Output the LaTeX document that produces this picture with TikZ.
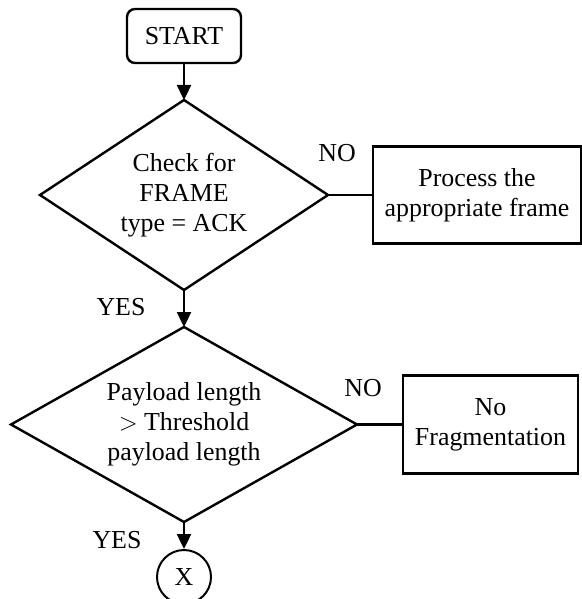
\documentclass[tikz,border=0pt]{standalone}
\usepackage{fontspec}
\setmainfont{Liberation Serif}
\usetikzlibrary{shapes.geometric,arrows.meta}
\begin{document}
\begin{tikzpicture}[x=1bp,y=-1bp,
  every node/.style={font=\fontsize{26}{30}\selectfont},
  link/.style={line width=2.4bp},
  flow/.style={link, -{Triangle[length=15bp,width=14bp]}},
  decision/.style={draw, line width=2.4bp, diamond, align=center, inner sep=0pt, outer sep=0pt},
  procbox/.style={draw, line width=2.4bp, rectangle, align=center, inner sep=0pt},
  tag/.style={inner sep=0pt}]
\useasboundingbox (0,0) rectangle (582,599);
\clip (0,0) rectangle (582,599);

% flow chart nodes
\node[procbox, rounded corners=8bp, minimum width=114bp, minimum height=54bp] (start) at (184,36) {START};
\node[decision, shape aspect=1.516, minimum width=288bp, minimum height=190bp] (d1) at (184,195) {Check for\\FRAME\\type = ACK};
\node[procbox, minimum width=208bp, minimum height=97bp] (proc) at (477,195) {Process the\\appropriate frame};
\node[decision, shape aspect=1.774, minimum width=346bp, minimum height=195bp] (d2) at (184,424.5) {Payload length\\$>$ Threshold\\payload length};
\node[procbox, minimum width=175bp, minimum height=98bp] (nofrag) at (490.5,424.5) {No\\Fragmentation};
\node[draw, circle, line width=2bp, minimum size=54bp, inner sep=0pt] (conn) at (184,577) {X};

% connectors
\draw[flow] (start.south) -- (d1.north);
\draw[link] (d1.east) -- (proc.west);
\draw[flow] (d1.south) -- (d2.north);
\draw[link] (d2.east) -- (nofrag.west);
\draw[flow] (d2.south) -- (conn.north);

% branch labels
\node[tag] (no1) at (337,153) {NO};
\node[tag] (yes1) at (121,307) {YES};
\node[tag] (no2) at (363,388) {NO};
\node[tag] (yes2) at (117,540) {YES};
\end{tikzpicture}
\end{document}
